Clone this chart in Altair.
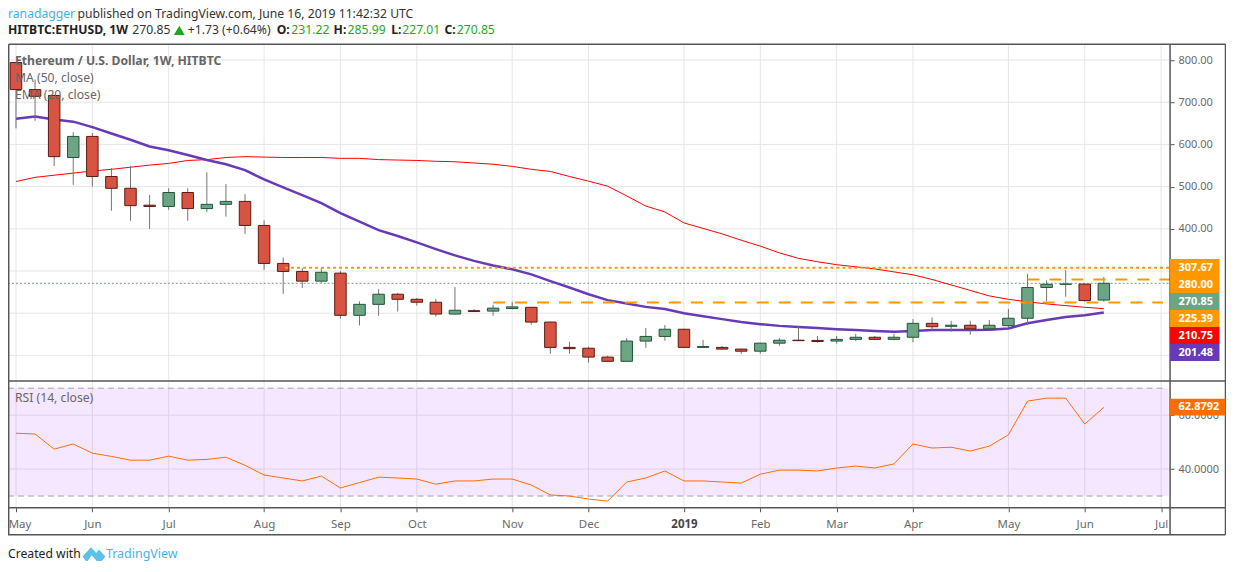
import altair as alt
import pandas as pd

FONT = "Noto Sans"

# ---- weekly OHLC values ----
opens = [794,730,716,569,619,524,496,456,453,486,448,458,465,408,318,299,276,295,195,221,245,233,226,198,206,205,211,214,179,119,
         117,96,86,134,145,162,119,119,115,110,129,136,135.5,134,138,143,138,143,176,169,171.5,163,170.5,188,261,268.5,269,231.22]
highs = [795,754,716,629,627,544,549,480,496,496,534,506,482,420,332,307,309,300,228,257,248,236,234,262,210,220,227,215,180,132,
         120,99,141,165,172,163,137,122,116,130,141,170,146,146,151,146,151,186,190,182,182,184,210,293,278,302,270,285.99]
lows = [638,656,549,504,500,443,419,400,445,419,440,429,388,303,246,260,272,187,171,194,204,218,192,197,203,194,209,173,104,104,
        83,85,85,118,135,118,118,114,103.5,104,123,134,130,128,134,137,136,131,160,156,149,159,166,171.5,228,239,227,227.01]
closes = [730,714,571,619,524,496,455,453,486,448,458,465,408,318,299,276,297,195,221,245,233,226,198,207,204,212,215,179,119,116,
          96,86,134,145,162,119,121,115,110,129,136,135,133,138,143,138,143,176,168,171.5,163,171.5,188,261,268.5,269.1,230,270.85]
ma50 = [512,522,527,532,537,541,546,551,555,562,564,569,571,570,569,569,569,567,567,564,563,562,560,559,556,553,548,541,536,524,
        513,501,478,454,440,414,401,388,373,359,343,330,322,315,310,305,298,291,280,267,254,241,233,227,222,218,214,210.75]
ema20 = [661,666,659,654,641,626,611,595,586,575,563,553,539,517,498,480,461,437,417,397,383,368,352,337,324,313,304,292,276,261,
         245,231,223,215,210,200,193,186,179,174,170,167.5,165,162,160,158,156,158,160,160,160,161,164,176,184,191,195,201.48]
rsi14 = [53.3,53,47.4,49.3,45.9,44.7,43.3,43.3,44.8,43.3,43.6,44.4,41.4,37.8,36.7,35.6,37.4,33,35,37,36.7,36.3,34.4,35.6,35.6,36.3,36.3,34.1,30.4,30,
         28.9,28.1,35.2,36.7,39.3,35.6,35.6,35.2,34.8,38.1,39.6,39.6,39.3,40.4,41.1,40.4,41.9,49.3,47.8,48.1,46.7,48.5,52.7,65.2,66.3,66.3,56.7,62.8792]

month_bars = [0,4,8,13,17,21,26,30,35,39,43,47,52,56,60]
month_names = ["May","Jun","Jul","Aug","Sep","Oct","Nov","Dec","2019","Feb","Mar","Apr","May","Jun","Jul"]
price_ticks = [100,200,300,400,500,600,700,800]
rsi_ticks = [40,60]
rsi_bands = [30,70]
level_values = [307.67, 280, 225.39]
level_starts = [14.1, 53, 25]
level_ends = [60.47, 60.47, 60.1]
level_dashes = [[3,3], [12,10], [12,10]]
badges = [("307.67","#FF9800"),("280.00","#FF9800"),("270.85","#6BA583"),("225.39","#FF9800"),("210.75","#FF0000"),("201.48","#673AB7")]

W, H = 1163.5, 500
bars = list(range(len(opens)))
df = pd.DataFrame({"i":bars,"o":opens,"h":highs,"l":lows,"c":closes,"ma":ma50,"ema":ema20,"rsi":rsi14})
df["dir"] = ["up" if c>=o else "down" for o,c in zip(opens,closes)]
months = pd.DataFrame({"t":month_bars})

x_scale = alt.Scale(domain=[-0.4186,60.47], nice=False, zero=False, padding=0)
p_scale = alt.Scale(domain=[100,800], range=[347.5,51.75], nice=False, zero=False)
r_scale = alt.Scale(domain=[30,70], range=[488.3,380.3], nice=False, zero=False)

GREY = "#6a6a6a"
label_map = "{" + ",".join(f"'{b}':'{n}'" for b,n in zip(month_bars,month_names)) + "}"
x_axis = alt.Axis(values=month_bars, labelExpr=label_map+"[datum.value]", title=None, grid=False, domain=False,
                  tickColor="#555555", tickSize=4, labelColor=alt.expr("datum.value==35?'#444444':'"+GREY+"'"),
                  labelFontWeight=alt.expr("datum.value==35?'bold':'normal'"),
                  labelOffset=alt.expr("datum.value==0?3.5:0"),
                  labelFont=FONT, labelFontSize=11.5, labelPadding=7, labelOverlap=False)

def X(f, axis=None):
    return alt.X(f, type="quantitative", scale=x_scale, axis=axis, title=None)
def PY(f, axis=None):
    return alt.Y(f, type="quantitative", scale=p_scale, axis=axis, title=None)
def RY(f, axis=None):
    return alt.Y(f, type="quantitative", scale=r_scale, axis=axis, title=None)

one = pd.DataFrame({"a":[0]})
def text(s, x, y, color="#333333", size=12.2, weight="normal", align="left", font=FONT):
    return alt.Chart(one).mark_text(text=s, align=align, baseline="middle", color=color, fontSize=size,
                                    fontWeight=weight, font=font).encode(x=alt.value(x-8), y=alt.value(y-8))
def seg(x1, y1, x2, y2, color="#555555", width=1.5):
    return alt.Chart(one).mark_rule(color=color, strokeWidth=width).encode(
        x=alt.value(x1-8), x2=alt.value(x2-8), y=alt.value(y1-8), y2=alt.value(y2-8))
def box(x1, y1, x2, y2, color):
    return alt.Chart(one).mark_rect(color=color).encode(
        x=alt.value(x1-8), x2=alt.value(x2-8), y=alt.value(y1-8), y2=alt.value(y2-8))

# ---- price panel ----
price_axis = alt.Axis(values=price_ticks, labelExpr="datum.value>=400?format(datum.value,'.2f'):''", orient="right",
                      title=None, grid=False, domain=False, tickColor="#555555", tickSize=4, labelColor=GREY,
                      labelFont=FONT, labelFontSize=11, labelPadding=4)
v_grid = alt.Chart(months).mark_rule(color="#e6e6e6", strokeWidth=1).encode(
    x=X("t", x_axis), y=alt.value(36), y2=alt.value(500))
h_grid = alt.Chart(pd.DataFrame({"p":price_ticks})).mark_rule(color="#e6e6e6", strokeWidth=1).encode(
    y=PY("p", price_axis), x=alt.value(0), x2=alt.value(W))
last_line = alt.Chart(pd.DataFrame({"p":[closes[-1]]})).mark_rule(color="#6BA583", strokeWidth=1, strokeDash=[2,2]).encode(
    y=PY("p"), x=alt.value(0), x2=alt.value(W))
ma_line = alt.Chart(df).mark_line(color="#FF0000", strokeWidth=1).encode(x=X("i"), y=PY("ma"))
ema_line = alt.Chart(df).mark_line(color="#673AB7", strokeWidth=2.5).encode(x=X("i"), y=PY("ema"))
wicks = alt.Chart(df).mark_rule(color="#737375", strokeWidth=1).encode(x=X("i"), y=PY("h"), y2="l")
bodies = alt.Chart(df).mark_bar(size=11.5, strokeWidth=1, orient="vertical").encode(
    x=X("i"), y=PY("o"), y2="c",
    fill=alt.Fill("dir:N", scale=alt.Scale(domain=["up","down"], range=["#6BA583","#D75442"]), legend=None),
    stroke=alt.Stroke("dir:N", scale=alt.Scale(domain=["up","down"], range=["#225437","#5B1A13"]), legend=None))
orange = []
for level, a, b, dash in zip(level_values, level_starts, level_ends, level_dashes):
    d = pd.DataFrame({"p":[level],"a":[a],"b":[b]})
    orange.append(alt.Chart(d).mark_rule(color="#FF9800", strokeWidth=2, strokeDash=dash).encode(
        x=X("a"), x2="b", y=PY("p")))
price_layers = alt.layer(v_grid, h_grid, last_line, ma_line, ema_line, wicks, bodies, *orange).resolve_axis(
    x="independent", y="independent")

# ---- RSI panel ----
rsi_axis = alt.Axis(values=rsi_ticks, format=".4f", orient="right", title=None, grid=False, domain=False,
                    tickColor="#555555", tickSize=4, labelColor=GREY, labelFont=FONT, labelFontSize=11, labelPadding=4)
r_grid = alt.Chart(pd.DataFrame({"p":rsi_ticks})).mark_rule(color="#e6e6e6", strokeWidth=1).encode(
    y=RY("p", rsi_axis), x=alt.value(0), x2=alt.value(W))
band = alt.Chart(pd.DataFrame({"a":[rsi_bands[1]],"b":[rsi_bands[0]]})).mark_rect(color="#9915FF", opacity=0.1).encode(
    y=RY("a"), y2="b", x=alt.value(0), x2=alt.value(1162))
band_lines = alt.Chart(pd.DataFrame({"p":rsi_bands})).mark_rule(color="#A79FB2", strokeWidth=1, strokeDash=[6,4]).encode(
    y=RY("p"), x=alt.value(0), x2=alt.value(1160))
rsi_line = alt.Chart(df).mark_line(color="#FF6D00", strokeWidth=1).encode(x=X("i"), y=RY("rsi"))
rsi_layers = alt.layer(r_grid, band, band_lines, rsi_line).resolve_axis(x="independent", y="independent")

# ---- frame, badges and texts ----
extras = [seg(8.7,44,1227,44), seg(8.7,44,8.7,535), seg(1171.5,44,1171.5,535), seg(1227,44,1227,535),
          seg(8,381,1227,381), seg(8,508,1227,508), seg(8,535,1227,535)]
top = 259
for s, col in badges:
    extras.append(box(1171.5, top, 1221, top+17, col))
    extras.append(text(s, 1180, top+8.7, color="white", size=11, weight="bold"))
    top += 17
extras.append(box(1171.5, 399, 1227, 415.7, "#FF6D00"))
extras.append(text("62.8792", 1180, 407.5, color="white", size=11, weight="bold"))

extras += [
    text("Ethereum / U.S. Dollar, 1W, HITBTC", 15, 60.5, color="#666666", weight="bold"),
    text("MA (50, close)", 15, 77.5, color="#666666"),
    text("EMA (20, close)", 15, 94.5, color="#666666"),
    text("RSI (14, close)", 15, 398.5, color="#666666"),
    text("ranadagger", 8, 14, color="#3BB3E4"),
    text("published on TradingView.com, June 16, 2019 11:42:32 UTC", 77.5, 14),
    text("HITBTC:ETHUSD, 1W", 8, 29.5, color="#222222", weight="bold"),
    text("270.85", 132.5, 29.5),
    text("+1.73 (+0.64%)", 188, 29.5),
    text("O:", 277, 29.5, color="#222222", weight="bold"), text("231.22", 291.7, 29.5, color="#1FA81F"),
    text("H:", 334, 29.5, color="#222222", weight="bold"), text("285.99", 348, 29.5, color="#1FA81F"),
    text("L:", 391.7, 29.5, color="#222222", weight="bold"), text("227.01", 402.7, 29.5, color="#1FA81F"),
    text("C:", 445, 29.5, color="#222222", weight="bold"), text("270.85", 457.3, 29.5, color="#1FA81F"),
    text("Created with", 8, 554.5, color="#222222"),
    text("TradingView", 106, 554.5, color="#45B4E8", size=12.5),
    alt.Chart(one).mark_point(shape="triangle-up", filled=True, color="#1FA81F", size=115, opacity=1).encode(
        x=alt.value(179.5-8), y=alt.value(30-8)),
    alt.Chart(one).mark_point(filled=True, color="#5CC0E8", size=520, opacity=1,
        shape="M-1,.2 L-.25,-.6 L.2,-.1 L.45,-.4 L1,.2 L.7,.6 L.25,.6 L-.2,.1 L-.55,.6 L-.7,.6 Z").encode(
        x=alt.value(94-8), y=alt.value(554.5-8)),
]
extras_layer = alt.layer(*extras)

chart = alt.layer(price_layers, rsi_layers, extras_layer).resolve_scale(y="independent").resolve_axis(
    x="independent", y="independent").properties(
    width=W, height=H,
    padding={"left":0,"top":0,"right":56,"bottom":56},
    autosize=alt.AutoSizeParams(type="none"),
    background="white",
).configure_view(stroke=None)

chart.save("out.html", embed_options={"renderer":"svg","actions":False})
